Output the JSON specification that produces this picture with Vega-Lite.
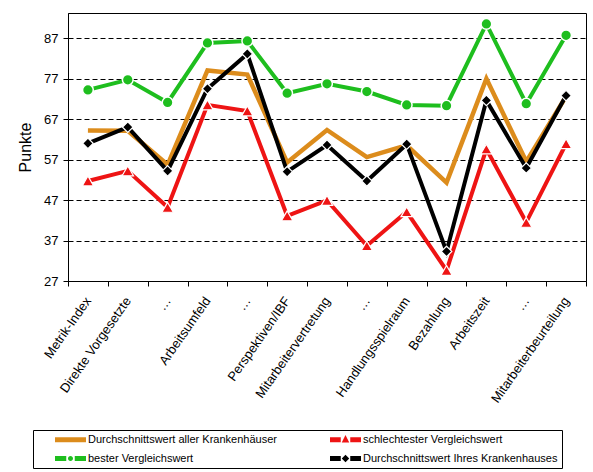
{
  "$schema": "https://vega.github.io/schema/vega-lite/v6.json",
  "autosize": {"type": "none"},
  "padding": {"left": 68, "top": 13, "right": 7, "bottom": 191},
  "width": 518,
  "height": 268,
  "config": {
    "font": "Liberation Sans",
    "view": {"stroke": "#000000", "strokeWidth": 1},
    "axis": {
      "labelFont": "Liberation Sans",
      "labelColor": "#000000",
      "labelFontSize": 13,
      "domainColor": "#000000",
      "tickColor": "#000000",
      "tickSize": 5,
      "titleFont": "Liberation Sans",
      "titleColor": "#000000",
      "titleFontWeight": "normal"
    },
    "legend": {
      "labelFont": "Liberation Sans",
      "labelFontSize": 11,
      "labelColor": "#000000",
      "labelLimit": 400
    }
  },
  "datasets": {
    "werte": [
      {"thema": "Metrik-Index", "reihe": "bester Vergleichswert", "punkte": 74.2},
      {"thema": "Metrik-Index", "reihe": "Durchschnittswert aller Krankenhäuser", "punkte": 64.2},
      {"thema": "Metrik-Index", "reihe": "Durchschnittswert Ihres Krankenhauses", "punkte": 61.0},
      {"thema": "Metrik-Index", "reihe": "schlechtester Vergleichswert", "punkte": 51.7},
      {"thema": "Direkte Vorgesetzte", "reihe": "bester Vergleichswert", "punkte": 76.7},
      {"thema": "Direkte Vorgesetzte", "reihe": "Durchschnittswert aller Krankenhäuser", "punkte": 64.1},
      {"thema": "Direkte Vorgesetzte", "reihe": "Durchschnittswert Ihres Krankenhauses", "punkte": 65.0},
      {"thema": "Direkte Vorgesetzte", "reihe": "schlechtester Vergleichswert", "punkte": 54.2},
      {"thema": "…3", "reihe": "bester Vergleichswert", "punkte": 71.1},
      {"thema": "…3", "reihe": "Durchschnittswert aller Krankenhäuser", "punkte": 55.7},
      {"thema": "…3", "reihe": "Durchschnittswert Ihres Krankenhauses", "punkte": 54.2},
      {"thema": "…3", "reihe": "schlechtester Vergleichswert", "punkte": 45.2},
      {"thema": "Arbeitsumfeld", "reihe": "bester Vergleichswert", "punkte": 85.8},
      {"thema": "Arbeitsumfeld", "reihe": "Durchschnittswert aller Krankenhäuser", "punkte": 79.0},
      {"thema": "Arbeitsumfeld", "reihe": "Durchschnittswert Ihres Krankenhauses", "punkte": 74.5},
      {"thema": "Arbeitsumfeld", "reihe": "schlechtester Vergleichswert", "punkte": 70.5},
      {"thema": "…5", "reihe": "bester Vergleichswert", "punkte": 86.3},
      {"thema": "…5", "reihe": "Durchschnittswert aller Krankenhäuser", "punkte": 78.0},
      {"thema": "…5", "reihe": "Durchschnittswert Ihres Krankenhauses", "punkte": 83.1},
      {"thema": "…5", "reihe": "schlechtester Vergleichswert", "punkte": 69.0},
      {"thema": "Perspektiven/IBF", "reihe": "bester Vergleichswert", "punkte": 73.4},
      {"thema": "Perspektiven/IBF", "reihe": "Durchschnittswert aller Krankenhäuser", "punkte": 56.3},
      {"thema": "Perspektiven/IBF", "reihe": "Durchschnittswert Ihres Krankenhauses", "punkte": 54.0},
      {"thema": "Perspektiven/IBF", "reihe": "schlechtester Vergleichswert", "punkte": 43.1},
      {"thema": "Mitarbeitervertretung", "reihe": "bester Vergleichswert", "punkte": 75.7},
      {"thema": "Mitarbeitervertretung", "reihe": "Durchschnittswert aller Krankenhäuser", "punkte": 64.3},
      {"thema": "Mitarbeitervertretung", "reihe": "Durchschnittswert Ihres Krankenhauses", "punkte": 60.6},
      {"thema": "Mitarbeitervertretung", "reihe": "schlechtester Vergleichswert", "punkte": 46.9},
      {"thema": "…8", "reihe": "bester Vergleichswert", "punkte": 73.8},
      {"thema": "…8", "reihe": "Durchschnittswert aller Krankenhäuser", "punkte": 57.6},
      {"thema": "…8", "reihe": "Durchschnittswert Ihres Krankenhauses", "punkte": 51.7},
      {"thema": "…8", "reihe": "schlechtester Vergleichswert", "punkte": 35.7},
      {"thema": "Handlungsspielraum", "reihe": "bester Vergleichswert", "punkte": 70.5},
      {"thema": "Handlungsspielraum", "reihe": "Durchschnittswert aller Krankenhäuser", "punkte": 60.5},
      {"thema": "Handlungsspielraum", "reihe": "Durchschnittswert Ihres Krankenhauses", "punkte": 60.8},
      {"thema": "Handlungsspielraum", "reihe": "schlechtester Vergleichswert", "punkte": 44.1},
      {"thema": "Bezahlung", "reihe": "bester Vergleichswert", "punkte": 70.3},
      {"thema": "Bezahlung", "reihe": "Durchschnittswert aller Krankenhäuser", "punkte": 51.3},
      {"thema": "Bezahlung", "reihe": "Durchschnittswert Ihres Krankenhauses", "punkte": 34.3},
      {"thema": "Bezahlung", "reihe": "schlechtester Vergleichswert", "punkte": 29.6},
      {"thema": "Arbeitszeit", "reihe": "bester Vergleichswert", "punkte": 90.5},
      {"thema": "Arbeitszeit", "reihe": "Durchschnittswert aller Krankenhäuser", "punkte": 77.0},
      {"thema": "Arbeitszeit", "reihe": "Durchschnittswert Ihres Krankenhauses", "punkte": 71.6},
      {"thema": "Arbeitszeit", "reihe": "schlechtester Vergleichswert", "punkte": 59.6},
      {"thema": "…12", "reihe": "bester Vergleichswert", "punkte": 70.8},
      {"thema": "…12", "reihe": "Durchschnittswert aller Krankenhäuser", "punkte": 56.5},
      {"thema": "…12", "reihe": "Durchschnittswert Ihres Krankenhauses", "punkte": 54.9},
      {"thema": "…12", "reihe": "schlechtester Vergleichswert", "punkte": 41.5},
      {"thema": "Mitarbeiterbeurteilung", "reihe": "bester Vergleichswert", "punkte": 87.7},
      {"thema": "Mitarbeiterbeurteilung", "reihe": "Durchschnittswert aller Krankenhäuser", "punkte": 72.6},
      {"thema": "Mitarbeiterbeurteilung", "reihe": "Durchschnittswert Ihres Krankenhauses", "punkte": 72.8},
      {"thema": "Mitarbeiterbeurteilung", "reihe": "schlechtester Vergleichswert", "punkte": 60.9}
    ]
  },
  "data": {"name": "werte"},
  "layer": [
    {
      "transform": [{"filter": "datum.reihe == 'Durchschnittswert aller Krankenhäuser'"}],
      "mark": {"type": "line", "color": "#DC8C1C", "strokeWidth": 4.5},
      "encoding": {
        "x": {
          "field": "thema",
          "type": "nominal",
          "sort": null,
          "scale": {"type": "band", "paddingInner": 0, "paddingOuter": 0},
          "axis": {
            "title": null,
            "tickBand": "extent",
            "labelAngle": -55,
            "labelAlign": "right",
            "labelBaseline": "middle",
            "labelPadding": 12,
            "labelExpr": "test(/^…/, '' + datum.label) ? '…' : datum.label"
          }
        },
        "y": {
          "field": "punkte",
          "type": "quantitative",
          "scale": {"domain": [27, 93.2], "nice": false, "zero": false},
          "axis": {
            "title": "Punkte",
            "titleFontSize": 16,
            "titlePadding": 10,
            "values": [27, 37, 47, 57, 67, 77, 87],
            "labelPadding": 5,
            "grid": true,
            "gridColor": "#000000",
            "gridDash": [5, 3],
            "gridWidth": 1
          }
        }
      }
    },
    {
      "transform": [{"filter": "datum.reihe == 'bester Vergleichswert'"}],
      "mark": {"type": "line", "color": "#1EBE1E", "strokeWidth": 4},
      "encoding": {
        "x": {"field": "thema", "type": "nominal", "sort": null},
        "y": {"field": "punkte", "type": "quantitative"}
      }
    },
    {
      "transform": [{"filter": "datum.reihe == 'bester Vergleichswert'"}],
      "mark": {"type": "point", "shape": "circle", "size": 115, "filled": true, "fill": "#1EBE1E", "stroke": "#FFFFFF", "strokeWidth": 1.5, "opacity": 1},
      "encoding": {
        "x": {"field": "thema", "type": "nominal", "sort": null},
        "y": {"field": "punkte", "type": "quantitative"}
      }
    },
    {
      "transform": [{"filter": "datum.reihe == 'schlechtester Vergleichswert'"}],
      "mark": {"type": "line", "color": "#EE1414", "strokeWidth": 4},
      "encoding": {
        "x": {"field": "thema", "type": "nominal", "sort": null},
        "y": {"field": "punkte", "type": "quantitative"}
      }
    },
    {
      "transform": [{"filter": "datum.reihe == 'schlechtester Vergleichswert'"}],
      "mark": {"type": "point", "shape": "triangle-up", "size": 130, "filled": true, "fill": "#EE1414", "stroke": "#FFFFFF", "strokeWidth": 1.2, "opacity": 1},
      "encoding": {
        "x": {"field": "thema", "type": "nominal", "sort": null},
        "y": {"field": "punkte", "type": "quantitative"}
      }
    },
    {
      "transform": [{"filter": "datum.reihe == 'Durchschnittswert Ihres Krankenhauses'"}],
      "mark": {"type": "line", "color": "#000000", "strokeWidth": 4},
      "encoding": {
        "x": {"field": "thema", "type": "nominal", "sort": null},
        "y": {"field": "punkte", "type": "quantitative"}
      }
    },
    {
      "transform": [{"filter": "datum.reihe == 'Durchschnittswert Ihres Krankenhauses'"}],
      "mark": {"type": "point", "shape": "diamond", "size": 110, "filled": true, "fill": "#000000", "stroke": "#FFFFFF", "strokeWidth": 1.2, "opacity": 1},
      "encoding": {
        "x": {"field": "thema", "type": "nominal", "sort": null},
        "y": {"field": "punkte", "type": "quantitative"}
      }
    },
    {
      "transform": [{"filter": "false"}],
      "mark": {"type": "point", "filled": true},
      "encoding": {
        "x": {"field": "thema", "type": "nominal", "sort": null},
        "y": {"field": "punkte", "type": "quantitative"},
        "color": {
          "field": "reihe",
          "type": "nominal",
          "scale": {
            "domain": ["Durchschnittswert aller Krankenhäuser", "bester Vergleichswert", "schlechtester Vergleichswert", "Durchschnittswert Ihres Krankenhauses"],
            "range": ["#DC8C1C", "#1EBE1E", "#EE1414", "#000000"]
          },
          "legend": {
            "title": null,
            "orient": "none",
            "legendX": -35,
            "legendY": 417,
            "columns": 2,
            "columnPadding": 35,
            "rowPadding": 7,
            "padding": 4,
            "strokeColor": "#000000",
            "symbolSize": 100,
            "symbolOffset": 28,
            "labelOffset": 12,
            "symbolOpacity": 1,
            "symbolStrokeWidth": 0
          }
        },
        "shape": {
          "field": "reihe",
          "type": "nominal",
          "scale": {
            "domain": ["Durchschnittswert aller Krankenhäuser", "bester Vergleichswert", "schlechtester Vergleichswert", "Durchschnittswert Ihres Krankenhauses"],
            "range": [
              "M-3.1,-0.5H3.1V0.5H-3.1Z",
              "M-3.1,-0.5H-0.85V0.5H-3.1Z M0.85,-0.5H3.1V0.5H0.85Z M0.5,0A0.5,0.5 0 1 1 -0.5,0A0.5,0.5 0 1 1 0.5,0Z",
              "M-3.1,-0.5H-0.95V0.5H-3.1Z M0.95,-0.5H3.1V0.5H0.95Z M0,-0.95L0.75,0.55L-0.75,0.55Z",
              "M-3.1,-0.5H-0.95V0.5H-3.1Z M0.95,-0.5H3.1V0.5H0.95Z M0,-0.75L0.75,0L0,0.75L-0.75,0Z"
            ]
          },
          "legend": {
            "title": null,
            "orient": "none",
            "legendX": -35,
            "legendY": 417,
            "columns": 2,
            "columnPadding": 35,
            "rowPadding": 7,
            "padding": 4,
            "strokeColor": "#000000",
            "symbolSize": 100,
            "symbolOffset": 28,
            "labelOffset": 12,
            "symbolOpacity": 1,
            "symbolStrokeWidth": 0
          }
        }
      }
    }
  ]
}
